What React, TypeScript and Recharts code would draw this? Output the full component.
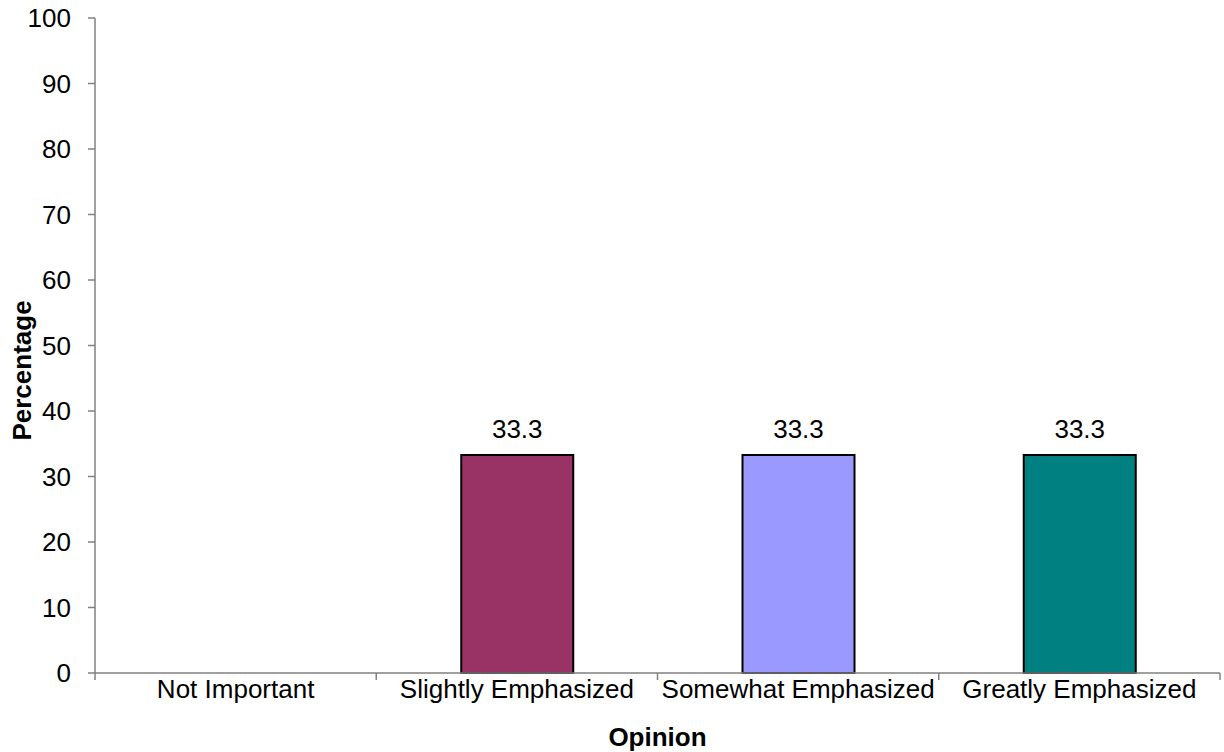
import { BarChart, Bar, XAxis, YAxis, Cell, LabelList, Label } from "recharts";

const categories = ["Not Important", "Slightly Emphasized", "Somewhat Emphasized", "Greatly Emphasized"];
const percentages = [0, 33.3, 33.3, 33.3];
const barColors = ["#993366", "#993366", "#9999FF", "#008080"];
const yTicks = [0, 10, 20, 30, 40, 50, 60, 70, 80, 90, 100];

const data = categories.map((name, i) => ({ name, value: percentages[i] }));

const font = "'Liberation Sans', Arial, sans-serif";
const axisColor = "#808080";
const fontSize = 26;

// category label plus tick marks on the band edges
function CategoryTick(props: any) {
  const { x, y, payload } = props;
  const half = payload.offset || 0;
  return (
    <g>
      {payload.index === 0 && (
        <line x1={x - half} x2={x - half} y1={y} y2={y + 7} stroke={axisColor} strokeWidth={1.5} />
      )}
      <line x1={x + half} x2={x + half} y1={y} y2={y + 7} stroke={axisColor} strokeWidth={1.5} />
      <text x={x} y={y + 25} textAnchor="middle" fill="#000" fontSize={fontSize} fontFamily={font}>
        {payload.value}
      </text>
    </g>
  );
}

export default function App() {
  return (
    <div style={{ position: "absolute", left: 0, top: 0, background: "#fff", fontFamily: font }}>
      <BarChart
        width={1224}
        height={752}
        data={data}
        margin={{ top: 18, right: 4, bottom: 29, left: 35 }}
        barSize={112}
      >
        <XAxis
          dataKey="name"
          height={50}
          axisLine={{ stroke: axisColor, strokeWidth: 1.5 }}
          tickLine={false}
          tickSize={0}
          tickMargin={0}
          interval={0}
          tick={<CategoryTick />}
        >
          <Label
            value="Opinion"
            position="bottom"
            offset={5}
            style={{ fill: "#000", fontSize, fontWeight: "bold", fontFamily: font }}
          />
        </XAxis>
        <YAxis
          domain={[0, 100]}
          ticks={yTicks}
          width={60}
          tickSize={7}
          tickMargin={17}
          interval={0}
          axisLine={{ stroke: axisColor, strokeWidth: 1.5 }}
          tickLine={{ stroke: axisColor, strokeWidth: 1.5 }}
          tick={{ fill: "#000", fontSize, fontFamily: font }}
        >
          <Label
            value="Percentage"
            angle={-90}
            position="left"
            offset={13}
            dy={25}
            style={{ fill: "#000", fontSize, fontWeight: "bold", fontFamily: font, textAnchor: "middle" }}
          />
        </YAxis>
        <Bar dataKey="value" stroke="#000" strokeWidth={2} isAnimationActive={false}>
          {data.map((d, i) => (
            <Cell key={d.name} fill={barColors[i]} stroke={d.value ? "#000" : "none"} />
          ))}
          <LabelList
            dataKey="value"
            position="top"
            offset={17}
            formatter={(v: number) => (v ? v.toFixed(1) : "")}
            style={{ fill: "#000", fontSize, fontFamily: font }}
          />
        </Bar>
      </BarChart>
    </div>
  );
}
